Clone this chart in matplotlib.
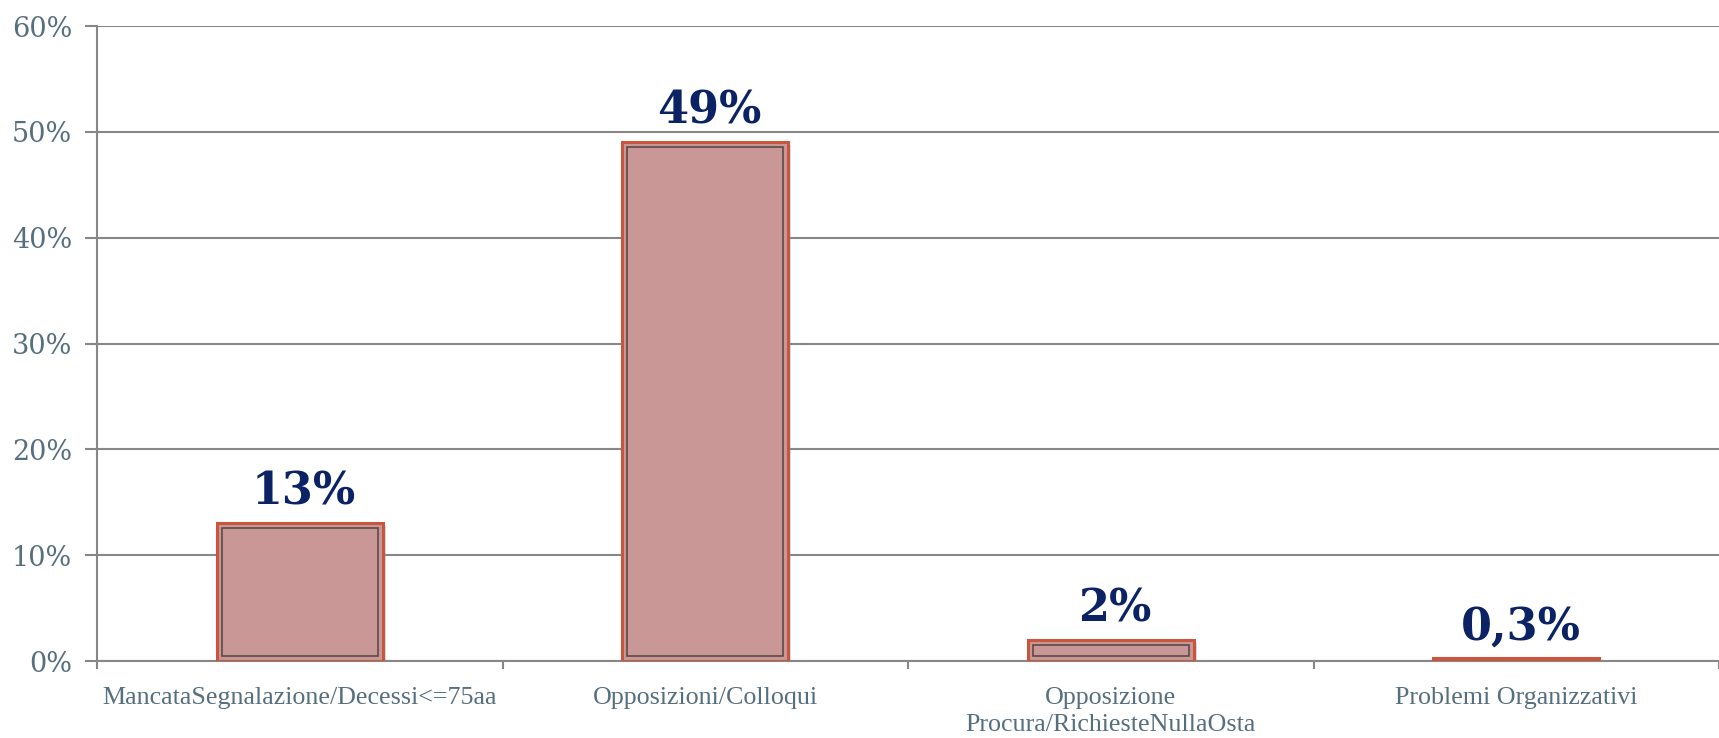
import matplotlib
matplotlib.use("Agg")
import matplotlib.pyplot as plt
from matplotlib.patches import Rectangle
import matplotlib.patheffects as pe
import numpy as np

categories = ["MancataSegnalazione/Decessi<=75aa", "Opposizioni/Colloqui",
              "Opposizione\nProcura/RichiesteNullaOsta", "Problemi Organizzativi"]
values = [13, 49, 2, 0.3]
value_labels = ["13%", "49%", "2%", "0,3%"]
yticks = [0, 10, 20, 30, 40, 50, 60]
ytick_labels = ["0%", "10%", "20%", "30%", "40%", "50%", "60%"]

W, H = 1719, 738
fig = plt.figure(figsize=(W / 100, H / 100), dpi=100)
ax = fig.add_axes([97 / W, (H - 661) / H, 1 - 97 / W, (661 - 26) / H])

x = np.arange(len(categories))
bw = 0.41
ax.set_xlim(-0.5, len(categories) - 0.5)
ax.set_ylim(0, 60)

grid_col = "#878787"
ax.set_yticks(yticks)
ax.set_yticklabels(ytick_labels)
ax.yaxis.grid(True, color=grid_col, linewidth=1.5, zorder=0)
ax.set_axisbelow(True)
for s in ["top", "right"]:
    ax.spines[s].set_visible(False)
for s in ["left", "bottom"]:
    ax.spines[s].set_color(grid_col)
    ax.spines[s].set_linewidth(1.5)

bars = ax.bar(x, values, width=bw, color="#C99896", edgecolor="#C9553D",
              linewidth=2.2, zorder=3,
              path_effects=[pe.SimplePatchShadow(offset=(2, -2), shadow_rgbFace="#999999", alpha=0.35),
                            pe.Normal()])

# inner dark outline inset by ~5 px
px_x = (ax.get_xlim()[1] - ax.get_xlim()[0]) / (W - 97)
px_y = 60 / (661 - 26)
ins = 5
for xi, v in zip(x, values):
    h = v - 2 * ins * px_y
    if h > 0:
        ax.add_patch(Rectangle((xi - bw / 2 + ins * px_x, ins * px_y),
                               bw - 2 * ins * px_x, h, facecolor="none",
                               edgecolor="#5a4a48", linewidth=1.2, zorder=4))

for xi, v, lab in zip(x, values, value_labels):
    ax.annotate(lab, (xi, v), xytext=(3, 7), textcoords="offset points",
                ha="center", va="bottom", fontsize=32, fontweight="bold",
                color="#0B2265", family="DejaVu Serif")

ax.set_xticks(x)
ax.set_xticklabels(categories, fontsize=18.7, color="#566F7E",
                   family="Liberation Serif", va="top", linespacing=1.3)
ax.tick_params(axis="x", which="major", length=0, pad=19)
ax.set_xticks(np.arange(len(categories) + 1) - 0.5, minor=True)
ax.tick_params(axis="x", which="minor", length=6, width=1.5, color=grid_col)
ax.tick_params(axis="y", length=9, width=1.5, color=grid_col, pad=9,
               labelsize=19.5, labelcolor="#566F7E")
for t in ax.get_yticklabels():
    t.set_family("DejaVu Serif")

fig.savefig("out.png", dpi=100)
